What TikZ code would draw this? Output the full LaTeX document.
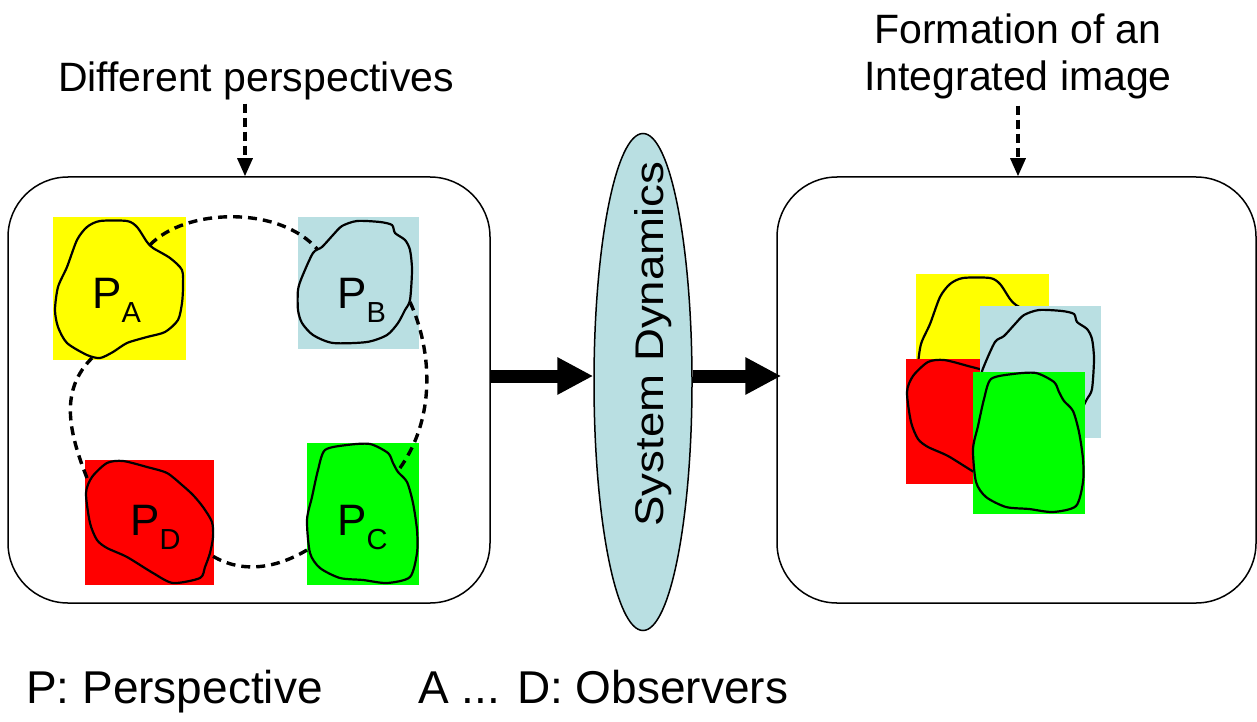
\documentclass[tikz,border=0pt]{standalone}
\usepackage{fontspec}
\setmainfont{Liberation Sans}
\usetikzlibrary{shapes.geometric,arrows.meta}
\definecolor{cyel}{RGB}{255,255,0}
\definecolor{cblu}{RGB}{185,223,226}
\definecolor{cred}{RGB}{255,0,0}
\definecolor{cgrn}{RGB}{0,255,0}
\newcommand\plabel[1]{P\raisebox{-14pt}{\fontsize{29}{29}\selectfont #1}}
\newcommand\blobY{(47,4) (74,4) (84,10) (94,25) (100,31) (117,41) (129,53) (130,70) (129,86) (125,103) (112,115) (94,120) (74,126) (60,135) (47,141) (34,138) (14,126) (5,110) (2,93) (5,70) (14,50) (24,23) (34,10)}
\newcommand\blobB{(59,4) (82,5) (94,8) (97,16) (107,23) (112,33) (114,53) (112,83) (107,93) (100,106) (89,118) (69,125) (35,126) (15,118) (4,106) (0,93) (0,73) (4,60) (15,36) (24,30) (35,18) (44,9)}
\newcommand\blobR{(38,1) (62,7) (82,13) (97,25) (108,35) (118,47) (127,62) (128,77) (125,93) (120,107) (115,118) (88,123) (68,113) (42,97) (22,88) (12,80) (5,63) (1,33) (7,17) (22,3)}
\newcommand\blobG{(18,7) (40,2) (63,1) (81,10) (86,20) (91,29) (100,39) (106,60) (110,87) (110,110) (103,134) (80,140) (56,137) (33,135) (13,125) (3,110) (0,77) (5,54) (11,27)}
\tikzset{
  panel/.style={draw, line width=1.5, rounded corners=60, inner sep=0},
  blob/.style={draw, line width=2.2, line join=round},
  loopline/.style={draw, line width=3.4, dash pattern=on 9pt off 6pt},
  pointer/.style={line width=3.2, dash pattern=on 9pt off 5pt, -{Triangle[length=18pt,width=15pt]}},
  bigarrow/.style={line width=13, -{Triangle[length=36pt,width=35pt]}},
  title/.style={font=\fontsize{41}{47}\selectfont, inner sep=0, align=center},
  legend/.style={font=\fontsize{46}{50}\selectfont, inner sep=0, anchor=base west},
  plab/.style={font=\fontsize{44}{44}\selectfont, inner sep=0, anchor=base west},
}
\begin{document}
\begin{tikzpicture}[x=1pt,y=-1pt]
\useasboundingbox (0,0) rectangle (1257,722);
% panels
\node[panel, minimum width=482, minimum height=426] (lbox) at (249,390) {};
\node[panel, minimum width=479, minimum height=426] (rbox) at (1016.5,390) {};
% left panel squares
\fill[cyel] (53,217) rectangle +(133,143);
\fill[cblu] (298,217) rectangle +(121,132);
\fill[cred] (85,460) rectangle +(129,125);
\fill[cgrn] (307,443) rectangle +(112,142);
% dashed loop
\coordinate (la1) at (150,245); \coordinate (lb1) at (318,250);
\coordinate (lb2) at (410,302); \coordinate (lc2) at (397,472);
\coordinate (lc3) at (307,550); \coordinate (ld3) at (208,553);
\coordinate (ld4) at (87,478);  \coordinate (la4) at (92,358);
\draw[loopline] (la1) .. controls (185,208) and (280,205) .. (lb1);
\draw[loopline] (lb2) .. controls (432,350) and (437,420) .. (lc2);
\draw[loopline] (lc3) .. controls (270,572) and (235,572) .. (ld3);
\draw[loopline] (ld4) .. controls (68,430) and (60,390) .. (la4);
% left blobs
\begin{scope}[shift={(53,217)}]\draw[blob, fill=cyel] plot[smooth cycle, tension=0.45] coordinates {\blobY};\end{scope}
\begin{scope}[shift={(298,217)}]\draw[blob, fill=cblu] plot[smooth cycle, tension=0.45] coordinates {\blobB};\end{scope}
\begin{scope}[shift={(85,460)}]\draw[blob, fill=cred] plot[smooth cycle, tension=0.45] coordinates {\blobR};\end{scope}
\begin{scope}[shift={(307,443)}]\draw[blob, fill=cgrn] plot[smooth cycle, tension=0.45] coordinates {\blobG};\end{scope}
\node[plab] (pa) at (92,308) {\plabel{A}};
\node[plab] (pb) at (337,308) {\plabel{B}};
\node[plab] (pd) at (130,535) {\plabel{D}};
\node[plab] (pc) at (337,535) {\plabel{C}};
% right panel: integrated image
\begin{scope}[shift={(916,274)}]\fill[cyel] (0,0) rectangle (133,143);\draw[blob] plot[smooth cycle, tension=0.45] coordinates {\blobY};\end{scope}
\begin{scope}[shift={(906,359)}]\fill[cred] (0,0) rectangle (129,125);\draw[blob] plot[smooth cycle, tension=0.45] coordinates {\blobR};\end{scope}
\begin{scope}[shift={(980,306)}]\fill[cblu] (0,0) rectangle (121,132);\draw[blob] plot[smooth cycle, tension=0.45] coordinates {\blobB};\end{scope}
\begin{scope}[shift={(973,372)}]\fill[cgrn] (0,0) rectangle (112,142);\draw[blob] plot[smooth cycle, tension=0.45] coordinates {\blobG};\end{scope}
% system dynamics
\node[ellipse, draw, line width=1.5, fill=cblu, minimum width=98, minimum height=497, inner sep=0] (sd) at (643,382) {};
\node[rotate=90, anchor=base, inner sep=0, font=\fontsize{40}{40}\selectfont] (sdtext) at (663,344) {\scalebox{1.14}[1]{System Dynamics}};
% big arrows
\coordinate (a1s) at ([yshift=14]lbox.east);
\draw[bigarrow] (a1s) -- (a1s -| sd.west);
\coordinate (a2s) at ([yshift=6]sd.east);
\coordinate (a2e) at ([xshift=5]rbox.west |- a2s);
\draw[bigarrow] (a2s) -- (a2e);
% titles
\node[title, anchor=base] (t1) at (256,92) {Different perspectives};
\node[title, anchor=base] (t2) at (1018,91) {Formation of an\\Integrated image};
\draw[pointer] ([xshift=-11pt, yshift=-3pt]t1.south) -- ([xshift=-11pt]t1.south |- lbox.north);
\draw[pointer] ([yshift=-6pt]t2.south) -- (t2.south |- rbox.north);
% legend
\node[legend] (leg1) at (26,703) {P: Perspective};
\node[legend] (leg2) at (418,703) {A ... D: Observers};
\end{tikzpicture}
\end{document}
